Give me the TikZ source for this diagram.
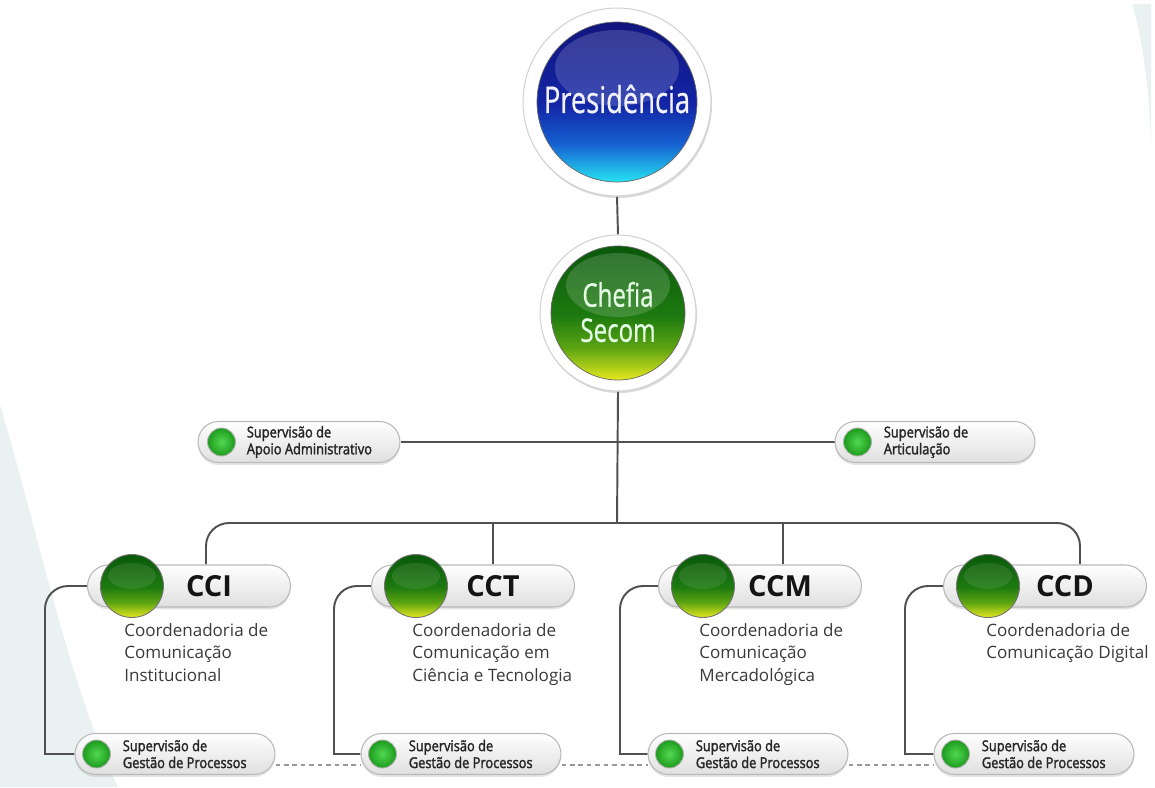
\documentclass[tikz,border=0pt]{standalone}
\usepackage{fontspec}
\setmainfont{Open Sans}
\newfontfamily\condfont[FakeStretch=0.74,FakeBold=0.6]{Open Sans}
\newfontfamily\pillfont[FakeStretch=0.86,FakeBold=1.9]{Open Sans}
\usetikzlibrary{shadows,calc}
\pgfdeclarelayer{back}
\pgfdeclarelayer{wires}
\pgfsetlayers{back,wires,main}
\definecolor{bgc}{HTML}{E9F2F0}
\definecolor{connc}{HTML}{505050}
\definecolor{descc}{HTML}{3A3A3A}
\definecolor{bcyan}{HTML}{26E2F2}
\definecolor{bmidb}{HTML}{1660D2}
\definecolor{bmid}{HTML}{1326A6}
\definecolor{bdark}{HTML}{11157E}
\definecolor{gyel}{HTML}{E6E81E}
\definecolor{gmidb}{HTML}{5CA412}
\definecolor{gmid}{HTML}{1D7A10}
\definecolor{gdark}{HTML}{0A580A}
\definecolor{dotin}{HTML}{52D852}
\definecolor{dotout}{HTML}{1C9A1C}
\pgfdeclareverticalshading{blueball}{100bp}{color(0bp)=(bcyan); color(25bp)=(bcyan); color(37bp)=(bmidb); color(49bp)=(bmid); color(75bp)=(bdark); color(100bp)=(bdark)}
\pgfdeclareverticalshading{greenball}{100bp}{color(0bp)=(gyel); color(25bp)=(gyel); color(37bp)=(gmidb); color(49bp)=(gmid); color(75bp)=(gdark); color(100bp)=(gdark)}
\tikzset{
  conn/.style={draw=connc, line width=1.1pt},
  ring/.style={circle, fill=white, draw=gray!35, line width=0.6pt, drop shadow={opacity=0.28, shadow xshift=0.6pt, shadow yshift=-1.2pt}},
  bigball/.style={circle, draw=black!60, line width=0.4pt},
  gloss/.style={fill=white, opacity=0.16},
  smallgloss/.style={fill=white, opacity=0.09},
  pill/.style={rounded corners=0.41cm, minimum width=4cm, minimum height=0.82cm, draw=gray!55, line width=0.6pt, top color=white, bottom color=gray!25, drop shadow={opacity=0.2, shadow xshift=0pt, shadow yshift=-1.4pt}},
  bigpill/.style={pill, minimum width=4.06cm, minimum height=0.84cm, rounded corners=0.42cm},
  dot/.style={circle, minimum size=0.56cm, inner sep=0, inner color=dotin, outer color=dotout, draw=gray!60, line width=0.5pt},
  cball/.style={circle, minimum size=1.26cm, inner sep=0, shading=greenball, draw=black!55, line width=0.5pt},
  pilltext/.style={anchor=west, align=left, inner sep=0, font=\pillfont\fontsize{8.5}{9.6}\selectfont, text=black!85},
  codetext/.style={font=\bfseries\fontsize{16.5}{16.5}\selectfont, text=black!92, inner sep=0},
  desc/.style={anchor=north west, align=left, inner sep=0, font=\fontsize{9.7}{12.8}\selectfont, text=descc},
}
\begin{document}
\begin{tikzpicture}[x=0.02cm, y=-0.02cm]
\useasboundingbox (0,0) rectangle (1155,787);
\begin{pgfonlayer}{back}
\fill[white] (0,0) rectangle (1155,787);
\fill[bgc] (0,405) .. controls (35,520) and (70,690) .. (118,787) -- (0,787) -- cycle;
\fill[bgc] (1132,4) .. controls (1143,40) and (1150,95) .. (1151,150) -- (1151,4) -- cycle;
\end{pgfonlayer}

% top circles
\node[ring, minimum size=3.76cm] (presring) at (617,102) {};
\node[bigball, minimum size=3.2cm, shading=blueball] (pres) at (617,102) {};
\fill[gloss] (617,68) ellipse [x radius=62, y radius=38];
\node[font=\condfont\fontsize{21}{21}\selectfont, text=white!95!blue] (prestext) at (617,99) {Presidência};

\node[ring, minimum size=3.12cm] (chefring) at (618,313) {};
\node[bigball, minimum size=2.68cm, shading=greenball] (chef) at (618,313) {};
\fill[gloss] (618,285) ellipse [x radius=52, y radius=32];
\node[font=\condfont\fontsize{18.5}{20}\selectfont, text=white!90!green, align=center] (cheftext) at (618,312) {Chefia\\Secom};

% supervision pills
\node[pill, minimum width=4.04cm] (apoio) at (299,442) {};
\node[dot] (apoiodot) at ([xshift=0.48cm]apoio.west) {};
\node[pilltext] (apoiotext) at ([xshift=0.98cm]apoio.west) {Supervisão de\\Apoio Administrativo};

\node[pill] (artic) at (935,442) {};
\node[dot] (articdot) at ([xshift=0.46cm]artic.west) {};
\node[pilltext] (artictext) at ([xshift=0.98cm]artic.west) {Supervisão de\\Articulação};

% coordination pills
\foreach \n/\x/\lab in {cci/189/CCI, cct/473/CCT, ccm/760/CCM, ccd/1045/CCD}{
  \node[bigpill] (\n) at (\x,586) {};
  \node[cball] (\n ball) at ([xshift=0.9cm]\n.west) {};
  \fill[smallgloss] ([xshift=0.9cm,yshift=0.2cm]\n.west) ellipse [x radius=24, y radius=13];
  \node[codetext] (\n text) at ([xshift=0.4cm]\n.center) {\lab};
}

\node[desc] (ccidesc) at (124,623) {Coordenadoria de\\Comunicação\\Institucional};
\node[desc] (cctdesc) at (412,623) {Coordenadoria de\\Comunicação em\\Ciência e Tecnologia};
\node[desc] (ccmdesc) at (699,623) {Coordenadoria de\\Comunicação\\Mercadológica};
\node[desc] (ccddesc) at (986,623) {Coordenadoria de\\Comunicação Digital};

% bottom pills
\foreach \n/\x in {bcci/175, bcct/461, bccm/748, bccd/1034}{
  \node[pill] (\n) at (\x,754) {};
  \node[dot] (\n dot) at ([xshift=0.44cm]\n.west) {};
  \node[pilltext] (\n text) at ([xshift=0.96cm]\n.west) {Supervisão de\\Gestão de Processos};
}

\coordinate (bus) at (617,523);
\begin{pgfonlayer}{wires}
\draw[conn] (presring.south) -- (chefring.north);
\draw[conn] (chefring.south) -- (bus);
\draw[conn] (apoio.east) -- (artic.west);
\draw[conn, rounded corners=0.46cm] ([xshift=0.34cm]cci.north) |- (bus) -| ([xshift=0.7cm]ccd.north);
\draw[conn] ([xshift=0.4cm]cct.north) -- ([xshift=0.4cm]cct.north |- bus);
\draw[conn] ([xshift=0.46cm]ccm.north) -- ([xshift=0.46cm]ccm.north |- bus);
\draw[conn] (cci.west) [rounded corners=0.46cm] -| (45,680) [sharp corners] |- (bcci.west);
\draw[conn] (cct.west) [rounded corners=0.46cm] -| (334,680) [sharp corners] |- (bcct.west);
\draw[conn] (ccm.west) [rounded corners=0.46cm] -| (620,680) [sharp corners] |- (bccm.west);
\draw[conn] (ccd.west) [rounded corners=0.46cm] -| (905,680) [sharp corners] |- (bccd.west);
\draw[gray!80, line width=0.8pt, dash pattern=on 2.6pt off 2.2pt] ([yshift=-0.22cm]bcci.east) -- ([yshift=-0.22cm]bcct.west);
\draw[gray!80, line width=0.8pt, dash pattern=on 2.6pt off 2.2pt] ([yshift=-0.22cm]bcct.east) -- ([yshift=-0.22cm]bccm.west);
\draw[gray!80, line width=0.8pt, dash pattern=on 2.6pt off 2.2pt] ([yshift=-0.22cm]bccm.east) -- ([yshift=-0.22cm]bccd.west);
\end{pgfonlayer}
\end{tikzpicture}
\end{document}
